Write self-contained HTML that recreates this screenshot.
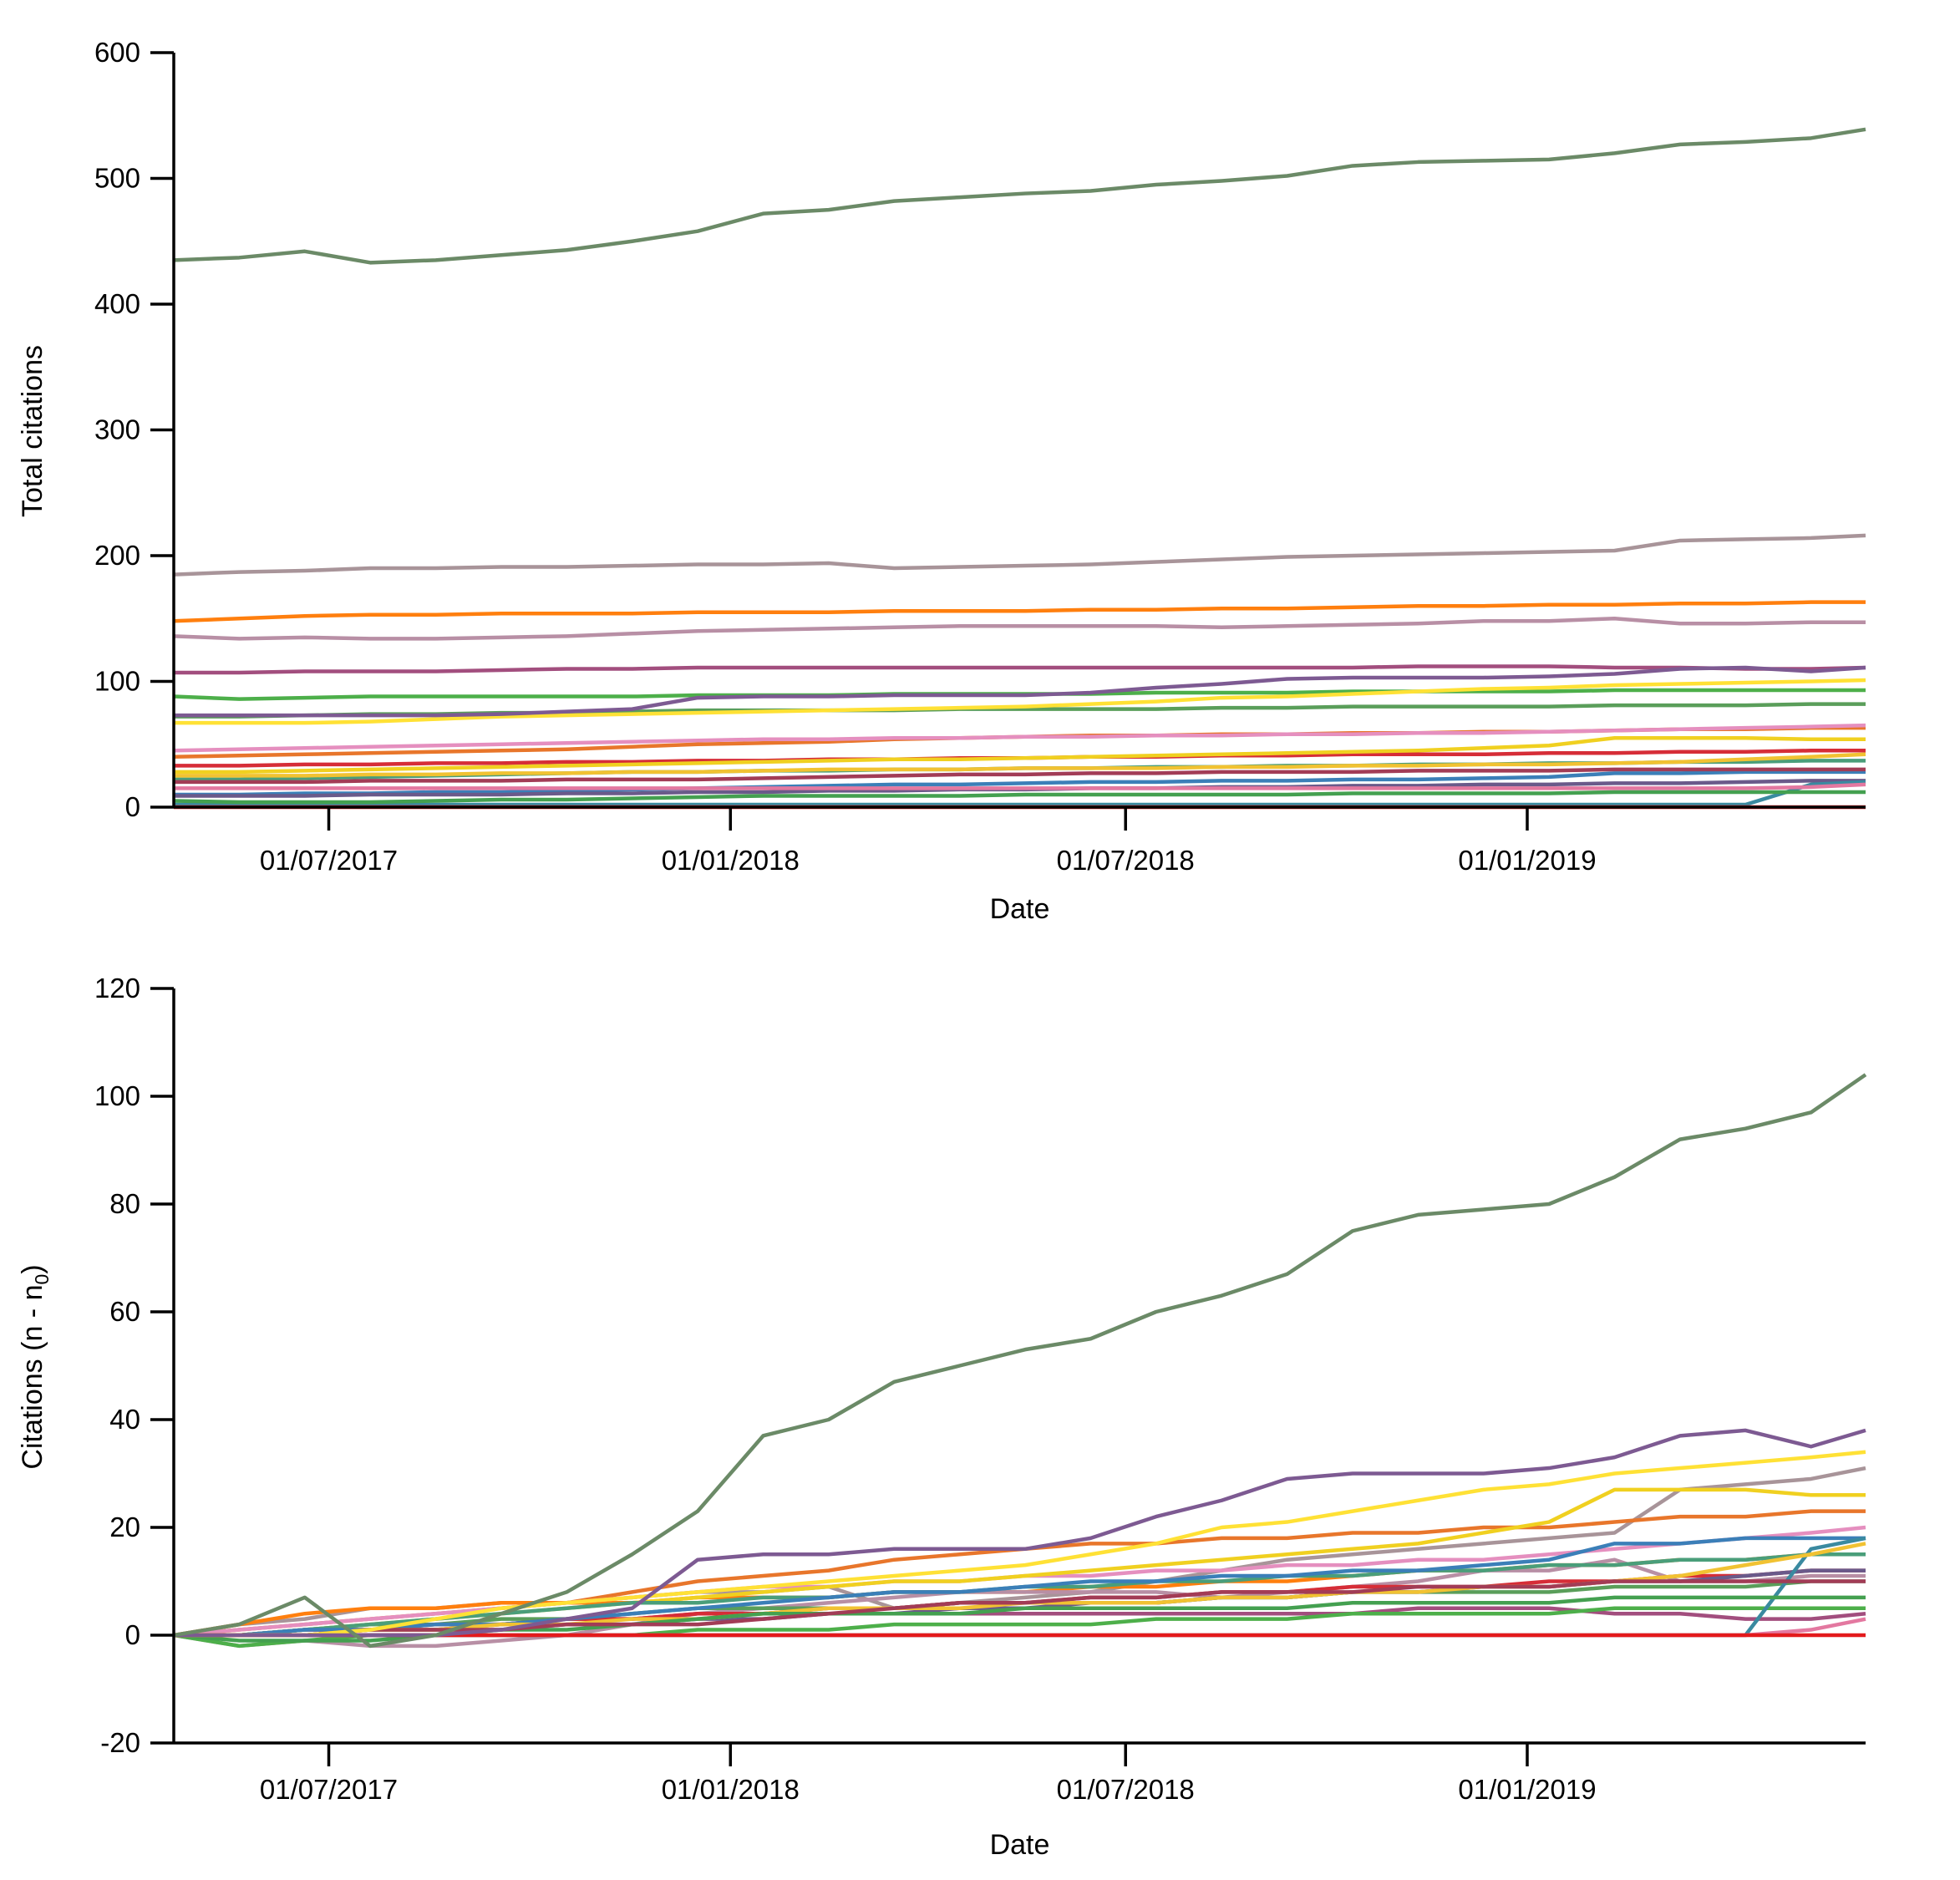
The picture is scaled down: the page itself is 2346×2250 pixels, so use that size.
<!DOCTYPE html>
<html><head><meta charset="utf-8"><style>
html,body{margin:0;padding:0;background:#fff;}
svg{display:block;font-family:"Liberation Sans",Arial,sans-serif;}
</style></head><body>
<svg id="chart" width="2346" height="2250" viewBox="0 0 2346 2250" xmlns="http://www.w3.org/2000/svg">
<defs>
<clipPath id="clipTop"><rect x="208" y="55" width="2027" height="914"/></clipPath>
<clipPath id="clipBot"><rect x="208" y="1175" width="2027" height="914"/></clipPath>
</defs>
<g id="top"></g>
<g id="bot"></g>
</svg>
<script>
// sample days since 2017-04-21
const sampleDays = [0,30,60,90,120,150,180,210,240,270,300,330,360,390,420,450,480,510,540,570,600,630,660,690,720,750,775];
const seriesColors = ['#a89499','#ff7f0e','#b88fa5','#a24e7e','#4daf4a','#5a9e5a','#e8762b','#e58fbf','#d62d37','#f0d020','#4a9e7a','#3b7fb8','#6a5a8a','#3a8aa0','#f1c232','#e378a0','#44a050','#a23c56','#e31a1c','#ffe135','#7d5a92','#6b8a67'];
const sGray = [185,187,188,190,190,191,191,192,193,193,194,190,191,192,193,195,197,199,200,201,202,203,204,212,213,214,216];
const sOrange = [148,150,152,153,153,154,154,154,155,155,155,156,156,156,157,157,158,158,159,160,160,161,161,162,162,163,163];
const sMauve = [136,134,135,134,134,135,136,138,140,141,142,143,144,144,144,144,143,144,145,146,148,148,150,146,146,147,147];
const sMagenta = [107,107,108,108,108,109,110,110,111,111,111,111,111,111,111,111,111,111,111,112,112,112,111,111,110,110,111];
const sGreen = [88,86,87,88,88,88,88,88,89,89,89,90,90,90,90,91,91,91,92,92,92,92,93,93,93,93,93];
const sGreen2 = [72,72,73,74,74,75,75,76,77,77,77,77,78,78,78,78,79,79,80,80,80,80,81,81,81,82,82];
const sOrange2 = [40,41,42,43,44,45,46,48,50,51,52,54,55,56,57,57,58,58,59,59,60,60,61,62,62,63,63];
const sPink = [45,46,47,48,49,50,51,52,53,54,54,55,55,56,56,57,57,58,58,59,59,60,61,62,63,64,65];
const sRed = [33,33,34,34,35,35,36,36,37,37,38,38,39,39,40,40,41,41,42,42,42,43,43,44,44,45,45];
const sYellow2 = [28,28,29,30,31,32,33,34,35,36,37,38,38,39,40,41,42,43,44,45,47,49,55,55,55,54,54];
const sTeal = [22,22,23,24,25,26,27,28,28,29,29,30,30,31,31,32,32,33,33,34,34,35,35,36,36,37,37];
const sBlue = [10,10,11,11,12,12,13,14,15,16,17,18,18,19,20,20,21,21,22,22,23,24,27,27,28,28,28];
const sDarkPurple = [9,9,9,10,10,10,11,11,12,12,13,13,14,14,15,15,16,16,17,17,18,18,19,19,20,21,21];
const sTeal2 = [2,2,2,2,2,2,2,2,2,2,2,2,2,2,2,2,2,2,2,2,2,2,2,2,2,18,20];
const sGold = [25,25,25,26,26,27,27,28,28,29,30,30,30,31,31,31,32,32,33,33,34,34,35,36,38,40,42];
const sLightPink = [15,15,15,15,15,15,15,15,15,15,15,15,15,15,15,15,15,15,15,15,15,15,15,15,15,16,18];
const sGreen3 = [5,4,4,4,5,6,6,7,8,9,9,9,9,10,10,10,10,10,11,11,11,11,12,12,12,12,12];
const sDarkRed = [20,20,20,21,21,21,22,22,22,23,24,25,26,26,27,27,28,28,28,29,29,29,30,30,30,30,30];
const sRedZero = [0,0,0,0,0,0,0,0,0,0,0,0,0,0,0,0,0,0,0,0,0,0,0,0,0,0,0];
const sYellow = [67,67,67,68,70,72,73,74,75,76,77,78,79,80,82,84,87,88,90,92,94,95,97,98,99,100,101];
const sPurple = [73,73,73,73,73,74,76,78,87,88,88,89,89,89,91,95,98,102,103,103,103,104,106,110,111,108,111];
const sMain = [435,437,442,433,435,439,443,450,458,472,475,482,485,488,490,495,498,502,510,513,514,515,520,527,529,532,539];
const seriesList = [sGray,sOrange,sMauve,sMagenta,sGreen,sGreen2,sOrange2,sPink,sRed,sYellow2,sTeal,sBlue,sDarkPurple,sTeal2,sGold,sLightPink,sGreen3,sDarkRed,sRedZero,sYellow,sPurple,sMain];
const seriesNames = ['gray','orange','mauve','magenta','green','green-2','orange-2','pink','red','yellow-2','teal','blue','dark-purple','teal-2','gold','light-pink','green-3','dark-red','red-zero','yellow','purple','main-green'];
const topTicks = [0,100,200,300,400,500,600];
const botTicks = [-20,0,20,40,60,80,100,120];
const dateTicks = [71,255,436,620];
const dateLabels = ['01/07/2017','01/01/2018','01/07/2018','01/01/2019'];

const NS='http://www.w3.org/2000/svg';
const X0=208, X1=2233, D0=0, D1=775;
function xs(d){return X0+(d-D0)/(D1-D0)*(X1-X0);}
function mk(tag,attrs,parent){const e=document.createElementNS(NS,tag);for(const k in attrs)e.setAttribute(k,attrs[k]);parent.appendChild(e);return e;}

function drawChart(g, yTop, yBot, vTop, vBot, ticks, clip, transform, yLabelFn, labelCY, tickLabelY, dateY){
  const ys=v=>yBot+(v-vBot)/(vTop-vBot)*(yTop-yBot);
  const lines=mk('g',{'clip-path':'url(#'+clip+')'},g);
  
  
  seriesList.forEach((s,i)=>{
    const vals=transform(s);
    let d='M'+xs(sampleDays[0])+','+ys(vals[0]);
    for(let k=1;k<sampleDays.length;k++){d+=' L'+xs(sampleDays[k])+','+ys(vals[k]);}
    const p=mk('path',{d:d,fill:'none',stroke:seriesColors[i],'stroke-width':4.5,'stroke-linejoin':'round'},lines);
    
    
  });
  const ax=mk('g',{},g);
  
  
  mk('line',{x1:X0,x2:X0,y1:ys(vTop),y2:ys(vBot),stroke:'#000','stroke-width':3.5},ax);
  ticks.forEach(t=>{
    mk('line',{x1:X0-28,x2:X0,y1:ys(t),y2:ys(t),stroke:'#000','stroke-width':3.5},ax);
    const tx=mk('text',{x:X0-40,y:ys(t)+11,'text-anchor':'end','font-size':33,fill:'#000'},ax);
    tx.textContent=t;
    
    
  });
  const xa=mk('g',{},g);
  
  
  mk('line',{x1:X0,x2:X1,y1:ys(vBot),y2:ys(vBot),stroke:'#000','stroke-width':3.5},xa);
  dateTicks.forEach((d,i)=>{
    mk('line',{x1:xs(d),x2:xs(d),y1:ys(vBot),y2:ys(vBot)+28,stroke:'#000','stroke-width':3.5},xa);
    const tx=mk('text',{x:xs(d),y:tickLabelY,'text-anchor':'middle','font-size':33,fill:'#000'},xa);
    tx.textContent=dateLabels[i];
    
    
  });
  const xt=mk('text',{x:(X0+X1)/2,y:dateY,'text-anchor':'middle','font-size':34,fill:'#000'},g);
  xt.textContent='Date';
  
  
  yLabelFn(g,labelCY);
}

drawChart(document.getElementById('top'),63,966,600,0,topTicks,'clipTop',s=>s,(g,cy)=>{
  const t=mk('text',{x:0,y:0,'text-anchor':'middle','font-size':34,fill:'#000',transform:'translate(50,'+cy+') rotate(-90)'},g);
  t.textContent='Total citations';
  
  
},516,1041,1099);

drawChart(document.getElementById('bot'),1183,2086,120,-20,botTicks,'clipBot',s=>s.map(v=>v-s[0]),(g,cy)=>{
  const t=mk('text',{x:0,y:0,'text-anchor':'middle','font-size':34,fill:'#000',transform:'translate(50,'+cy+') rotate(-90)'},g);
  
  
  t.appendChild(document.createTextNode('Citations (n - n'));
  const sub=mk('tspan',{'font-size':23,dy:8},t);
  sub.textContent='0';
  const cl=mk('tspan',{dy:-8},t);
  cl.textContent=')';
},1636,2153,2219);
</script>
</body></html>
